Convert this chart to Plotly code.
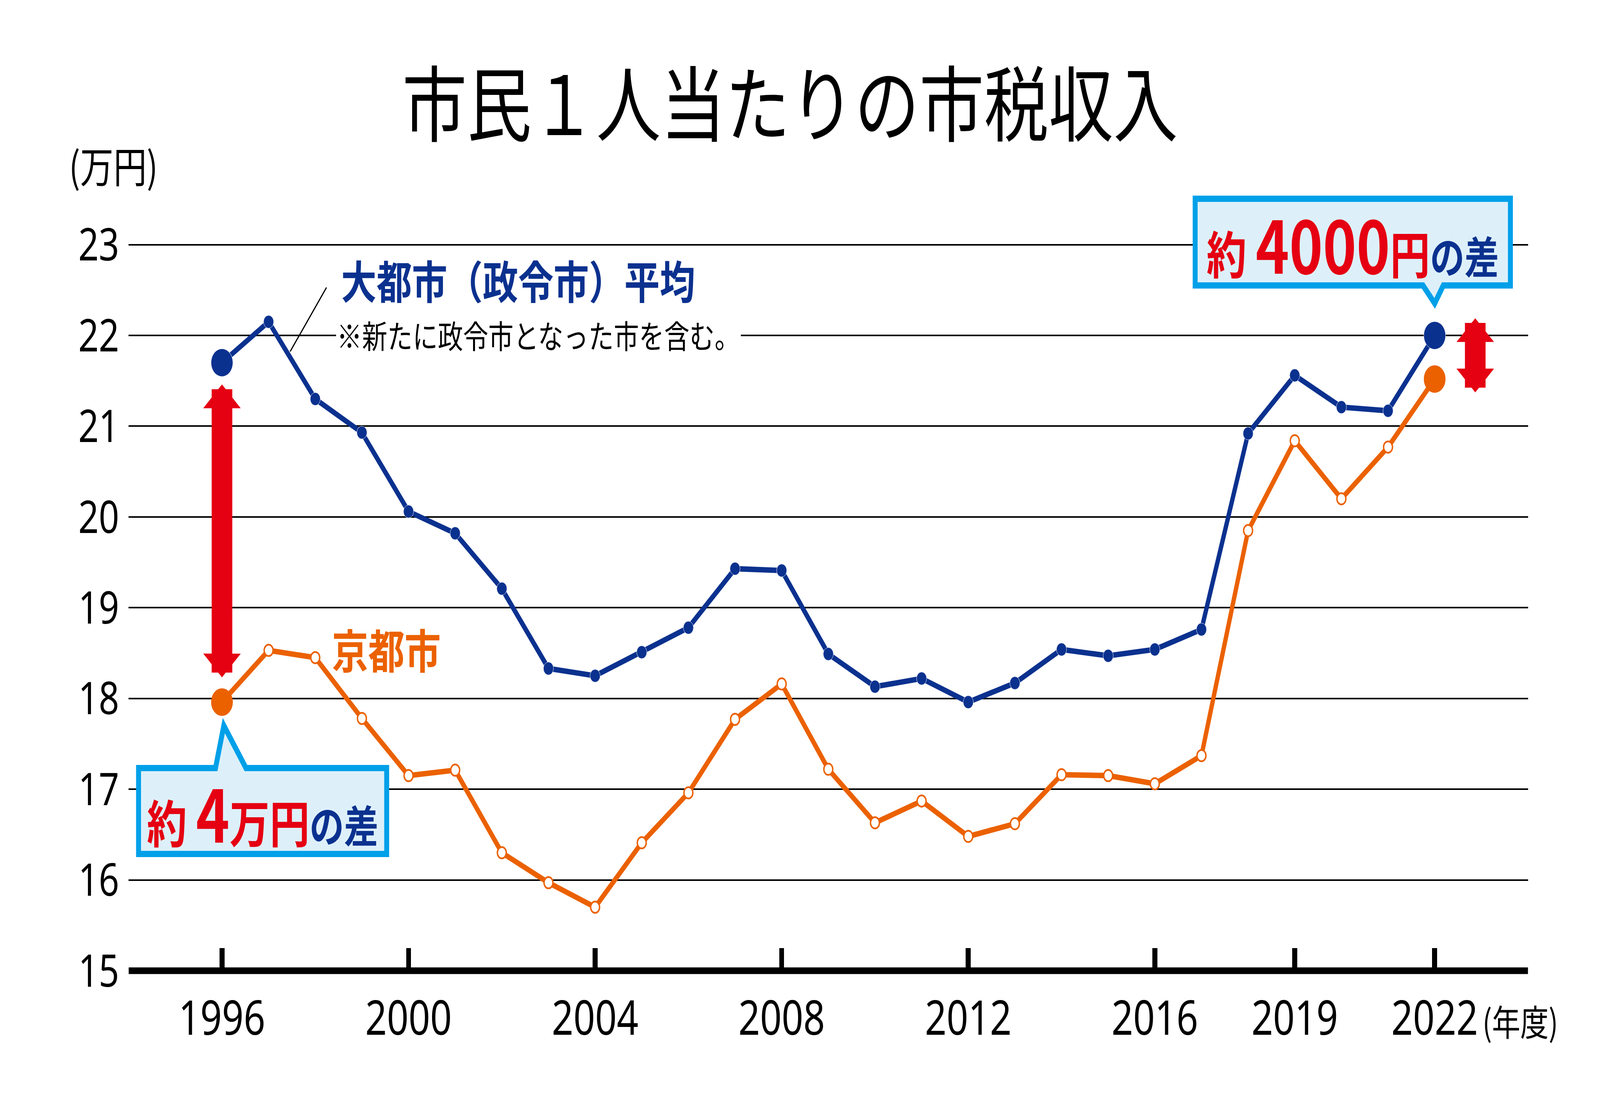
import plotly.graph_objects as go

# 年度
years = list(range(1996, 2023))
# 大都市（政令市）平均 (万円)
big_city = [21.70, 22.15, 21.30, 20.93, 20.06, 19.82, 19.21, 18.33, 18.25, 18.51,
            18.78, 19.43, 19.41, 18.49, 18.13, 18.22, 17.96, 18.17, 18.54, 18.47,
            18.54, 18.76, 20.92, 21.56, 21.21, 21.17, 22.00]
# 京都市 (万円)
kyoto = [17.96, 18.53, 18.45, 17.78, 17.15, 17.21, 16.30, 15.97, 15.70, 16.41,
         16.96, 17.77, 18.16, 17.22, 16.63, 16.87, 16.48, 16.62, 17.16, 17.15,
         17.06, 17.37, 19.85, 20.84, 20.20, 20.77, 21.52]
x_ticks = [1996, 2000, 2004, 2008, 2012, 2016, 2019, 2022]

NAVY = "#0B318F"
ORANGE = "#EB6100"
RED = "#E50012"
SKY = "#00A0E9"
SKY_BG = "#DDF0FA"
JP = "Noto Sans CJK JP"
NUM = "Noto Sans"
W, H = 5197, 2835
X_RANGE = [1994, 2024]
Y_RANGE = [15, 23.02]


def px(x):
    return (x - X_RANGE[0]) / (X_RANGE[1] - X_RANGE[0])


def py(y):
    return (y - Y_RANGE[0]) / (Y_RANGE[1] - Y_RANGE[0])


n = len(years)
fig = go.Figure()
fig.add_trace(go.Scatter(
    x=years, y=big_city, mode="lines+markers", cliponaxis=False,
    line=dict(color=NAVY, width=14),
    marker=dict(size=[71] + [33] * (n - 2) + [71], color=NAVY, opacity=1),
))
fig.add_trace(go.Scatter(
    x=years, y=kyoto, mode="lines+markers", cliponaxis=False,
    line=dict(color=ORANGE, width=14),
    marker=dict(size=[66] + [29] * (n - 2) + [66], opacity=1,
                color=[ORANGE] + ["white"] * (n - 2) + [ORANGE],
                line=dict(color=ORANGE, width=4.5)),
))

shapes = [
    # x軸の太線
    dict(type="line", xref="paper", x0=0, x1=1, yref="paper", y0=0, y1=0,
         line=dict(color="black", width=17), layer="above"),
    # 引き出し線
    dict(type="line", xref="paper", yref="paper", xsizemode="pixel", ysizemode="pixel",
         xanchor=px(years[1]), yanchor=py(big_city[1]), x0=70, y0=-76, x1=188, y1=88,
         line=dict(color="black", width=3.5)),
    # 吹き出し（右）
    dict(type="path", xref="paper", yref="paper", xsizemode="pixel", ysizemode="pixel",
         xanchor=px(years[-1]), yanchor=py(big_city[-1]),
         path="M -778,350 H 246 V 128 H 28 L 0,82 L -38,128 H -778 Z",
         fillcolor=SKY_BG, line=dict(color=SKY, width=16), layer="above"),
    # 吹き出し（左）
    dict(type="path", xref="paper", yref="paper", xsizemode="pixel", ysizemode="pixel",
         xanchor=px(years[0]), yanchor=py(kyoto[0]),
         path="M -271,-169 H -21 L 6,-60 L 78,-169 H 535 V -389 H -271 Z",
         fillcolor=SKY_BG, line=dict(color=SKY, width=16), layer="above"),
]


def arrow(x, y_tip, y_tail):
    return dict(x=x, y=y_tip, ax=x, ay=y_tail, xref="x", yref="y", axref="x", ayref="y",
                text="", showarrow=True, arrowside="end+start",
                arrowhead=1, startarrowhead=1, arrowwidth=67,
                arrowsize=0.303, startarrowsize=0.303, arrowcolor=RED,
                standoff=0, startstandoff=0, borderpad=0, font=dict(size=1))


annotations = [
    dict(text="(万円)", xref="paper", yref="paper", x=-0.0108, y=py(23) + 0.1103,
         xanchor="center", yanchor="middle", showarrow=False,
         font=dict(family=JP, size=108, color="black")),
    dict(text="(年度)", xref="paper", yref="paper", x=0.9945, y=-0.0678,
         xanchor="center", yanchor="middle", showarrow=False,
         font=dict(family=JP, size=92, color="black")),
    dict(text="<b>大都市（政令市）平均</b>", xref="x", yref="y", x=1998.54, y=22.62,
         xanchor="left", yanchor="middle", showarrow=False,
         font=dict(family=JP, size=115, color=NAVY)),
    dict(text="※新たに政令市となった市を含む。", xref="x", yref="y", x=1998.44, y=22.01,
         xanchor="left", yanchor="middle", showarrow=False, bgcolor="white", borderpad=2,
         font=dict(family=JP, size=82, color="black")),
    dict(text="<b>京都市</b>", xref="x", yref="y", x=1998.34, y=18.55,
         xanchor="left", yanchor="middle", showarrow=False,
         font=dict(family=JP, size=118, color=ORANGE)),
    arrow(years[0], big_city[0] - 0.24, kyoto[0] + 0.27),
    arrow(2022.87, big_city[-1] + 0.19, kyoto[-1] - 0.15),
    dict(text=("<b>約 <span style='font-size:185px'>4000</span>円"
               f"<span style='font-size:112px;color:{NAVY}'>の差</span></b>"),
         xref="x", yref="y", x=years[-1], y=big_city[-1], xshift=-266, yshift=239,
         xanchor="center", yanchor="middle", showarrow=False,
         font=dict(family=JP, size=130, color=RED)),
    dict(text=("<b>約 <span style='font-size:185px'>4</span>万円"
               f"<span style='font-size:112px;color:{NAVY}'>の差</span></b>"),
         xref="x", yref="y", x=years[0], y=kyoto[0], xshift=132, yshift=-279,
         xanchor="center", yanchor="middle", showarrow=False,
         font=dict(family=JP, size=130, color=RED)),
]

fig.update_layout(
    width=W, height=H,
    margin=dict(l=418, r=234, t=622, b=349),
    paper_bgcolor="white", plot_bgcolor="white",
    showlegend=False,
    title=dict(text="市民１人当たりの市税収入", x=0.4938, y=0.904,
               xref="container", yref="container", xanchor="center", yanchor="middle",
               font=dict(family=JP, size=210, color="black")),
    xaxis=dict(range=X_RANGE, tickvals=x_ticks, ticktext=[str(v) for v in x_ticks],
               showgrid=False, zeroline=False, showline=False,
               ticks="inside", ticklen=58, tickwidth=16, tickcolor="black",
               ticklabelstandoff=40,
               tickfont=dict(family=NUM, size=123, color="black")),
    yaxis=dict(range=Y_RANGE, tick0=15, dtick=1,
               showgrid=True, gridcolor="black", gridwidth=4,
               zeroline=False, showline=False, ticks="",
               ticklabelstandoff=30,
               tickfont=dict(family=NUM, size=116, color="black")),
    shapes=shapes,
    annotations=annotations,
)

# stretch the fixed-size figure onto the viewport the browser actually gives us
fit_js = (
    "var gd=document.getElementById('{plot_id}');"
    "document.documentElement.style.overflow='hidden';"
    "document.body.style.margin='0';"
    f"var sx=window.innerWidth/{W}, sy=window.innerHeight/{H};"
    "if(Math.abs(sx-1)>0.005||Math.abs(sy-1)>0.005)"
    "{gd.style.transformOrigin='0 0';gd.style.transform='scale('+sx+','+sy+')';}"
)
fig.write_html("out.html", post_script=fit_js, config={"displayModeBar": False})
